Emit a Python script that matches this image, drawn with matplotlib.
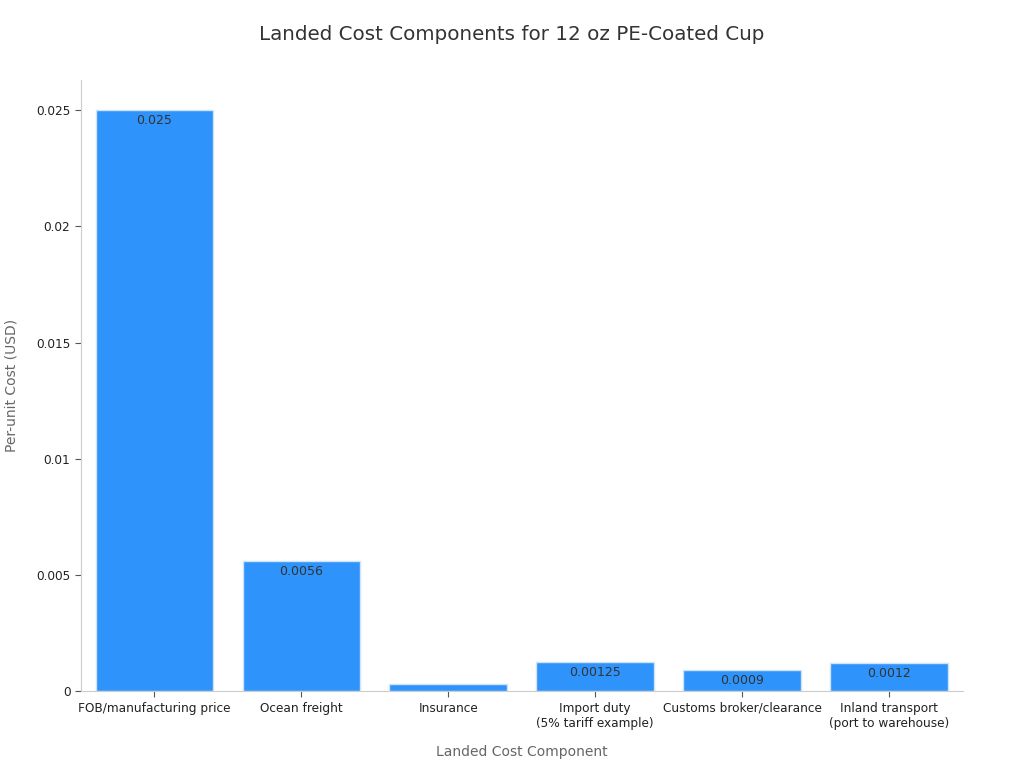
import matplotlib.pyplot as plt
import numpy as np

categories = ["FOB/manufacturing price", "Ocean freight", "Insurance",
              "Import duty\n(5% tariff example)", "Customs broker/clearance",
              "Inland transport\n(port to warehouse)"]
values = [0.025, 0.0056, 0.0003, 0.00125, 0.0009, 0.0012]
labels = ["0.025", "0.0056", "", "0.00125", "0.0009", "0.0012"]
yticks = [0, 0.005, 0.01, 0.015, 0.02, 0.025]
ytick_labels = ["0", "0.005", "0.01", "0.015", "0.02", "0.025"]

fig = plt.figure(figsize=(10.24, 7.68), dpi=100)
ax = fig.add_axes([0.079, 0.1, 0.861, 0.796])

x = np.arange(len(categories))
bars = ax.bar(x, values, width=0.8, color="#2E93FA", edgecolor="#cfe3fb", linewidth=1)

for b, lab in zip(bars, labels):
    if lab:
        ax.text(b.get_x() + b.get_width() / 2, b.get_height() - 0.00015, lab,
                ha="center", va="top", fontsize=9, color="#333333")

ax.set_xlim(-0.5, 5.5)
ax.set_ylim(0, 0.0263)
ax.set_xticks(x)
ax.set_xticklabels(categories, fontsize=8.7, color="#222222")
ax.set_yticks(yticks)
ax.set_yticklabels(ytick_labels, fontsize=8.7, color="#222222")
ax.tick_params(color="#555555", length=4)

for s in ["top", "right"]:
    ax.spines[s].set_visible(False)
for s in ["left", "bottom"]:
    ax.spines[s].set_color("#cccccc")

ax.set_xlabel("Landed Cost Component", fontsize=10, color="#666666", labelpad=11)
ax.set_ylabel("Per-unit Cost (USD)", fontsize=10, color="#666666", labelpad=13)
fig.suptitle("Landed Cost Components for 12 oz PE-Coated Cup", fontsize=14.3,
             color="#333333", y=0.968)

fig.savefig("out.png", dpi=100)
